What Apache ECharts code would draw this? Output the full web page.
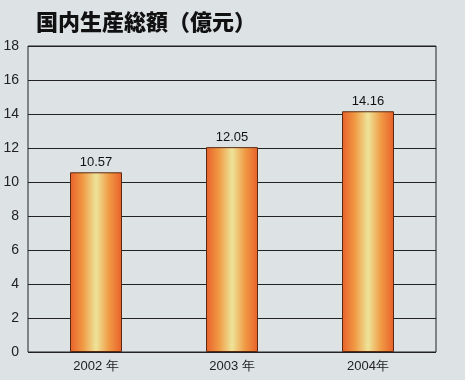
<!DOCTYPE html>
<html><head><meta charset="utf-8">
<script src="https://cdn.jsdelivr.net/npm/echarts@6/dist/echarts.min.js"></script>
<style>html,body{margin:0;padding:0;background:#dde2e5;}#c{width:465px;height:380px;}</style>
</head><body><div id="c"></div>
<script>
const title = '国内生産総額（億元）';
const categories = ['2002 年', '2003 年', '2004年'];
const values = [10.57, 12.05, 14.16];
const yTicks = [0, 2, 4, 6, 8, 10, 12, 14, 16, 18];

const chart = echarts.init(document.getElementById('c'));
chart.setOption({
  backgroundColor: '#dde2e5',
  animation: false,
  title: {
    text: title, left: 31, top: 6,
    textStyle: { fontFamily: 'Noto Sans CJK JP', fontWeight: 900, fontSize: 22, color: '#111' }
  },
  grid: { left: 28, right: 29, top: 46, bottom: 28, show: true, borderColor: '#222', borderWidth: 1, backgroundColor: 'transparent' },
  xAxis: {
    type: 'category', data: categories,
    axisLine: { show: false }, axisTick: { show: false },
    axisLabel: { color: '#222', fontSize: 13, fontFamily: 'Liberation Sans', margin: 8 }
  },
  yAxis: {
    type: 'value', min: yTicks[0], max: yTicks[yTicks.length - 1], interval: 2,
    axisLine: { show: false }, axisTick: { show: false },
    axisLabel: { color: '#222', fontSize: 14, fontFamily: 'Liberation Sans', margin: 9 },
    splitLine: { lineStyle: { color: '#222', width: 1 } }
  },
  series: [{
    type: 'bar', data: values, barWidth: 52,
    itemStyle: {
      borderColor: '#5a2a10', borderWidth: 1,
      color: new echarts.graphic.LinearGradient(0, 0, 1, 0, [
        { offset: 0, color: '#e8602a' },
        { offset: 0.25, color: '#f09a44' },
        { offset: 0.5, color: '#eee49a' },
        { offset: 0.75, color: '#f09a44' },
        { offset: 1, color: '#e8602a' }
      ])
    },
    label: { show: true, position: 'top', distance: 3, color: '#111', fontSize: 13, fontFamily: 'Liberation Sans', formatter: p => p.value.toFixed(2) }
  }]
});
</script></body></html>
